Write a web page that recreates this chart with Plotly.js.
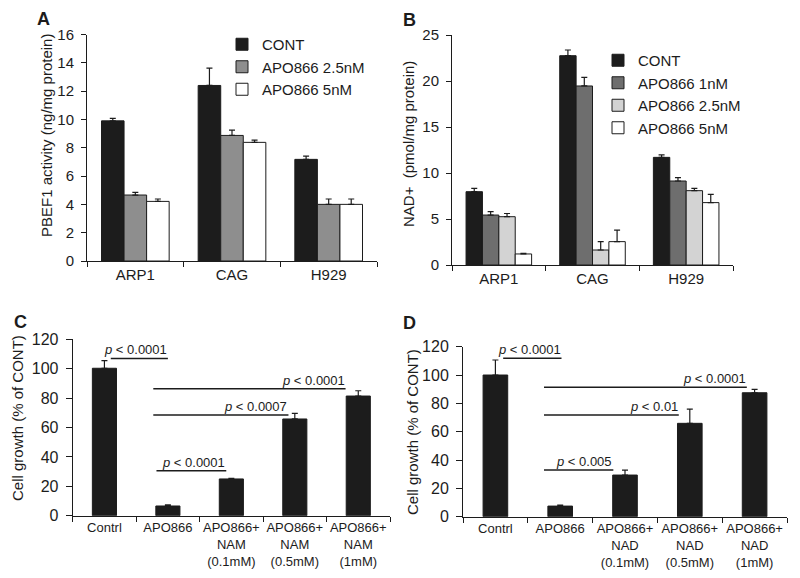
<!DOCTYPE html>
<html>
<head>
<meta charset="utf-8">
<script src="https://cdn.plot.ly/plotly-3.0.1.min.js"></script>
<style>html,body{margin:0;padding:0;background:#fff;}#chart{width:800px;height:578px;}</style>
</head>
<body>
<div id="chart"></div>
<script>
// ---------- DATA ----------
// Panel A: PBEF1 activity (ng/mg protein)
const cellLines = ['ARP1', 'CAG', 'H929'];
const seriesA = ['CONT', 'APO866 2.5nM', 'APO866 5nM'];
const aCont = [9.9, 12.4, 7.18];
const aContSd = [0.17, 1.22, 0.23];
const aApo25 = [4.66, 8.87, 4.0];
const aApo25Sd = [0.19, 0.38, 0.38];
const aApo5 = [4.21, 8.38, 4.0];
const aApo5Sd = [0.17, 0.16, 0.38];

// Panel B: NAD+ (pmol/mg protein)
const seriesB = ['CONT', 'APO866 1nM', 'APO866 2.5nM', 'APO866 5nM'];
const bCont = [7.97, 22.75, 11.7];
const bContSd = [0.36, 0.62, 0.26];
const bApo1 = [5.43, 19.46, 9.13];
const bApo1Sd = [0.37, 0.94, 0.37];
const bApo25 = [5.25, 1.63, 8.08];
const bApo25Sd = [0.35, 0.91, 0.25];
const bApo5 = [1.2, 2.54, 6.78];
const bApo5Sd = [0.07, 1.26, 0.9];

// Panel C: Cell growth with NAM
const catsC = ['Contrl', 'APO866', 'APO866+<br>NAM<br>(0.1mM)', 'APO866+<br>NAM<br>(0.5mM)', 'APO866+<br>NAM<br>(1mM)'];
const cGrowth = [100.3, 6.6, 25.0, 65.8, 81.4];
const cGrowthSd = [5.2, 0.7, 0.4, 3.8, 3.6];
const sigCFrom = [0.1, 0.77, 0.77, 0.82];
const sigCTo = [1.0, 3.8, 2.9, 1.92];
const sigCLevel = [107, 86.4, 68.5, 30.6];
const sigCText = ['p < 0.0001', 'p < 0.0001', 'p < 0.0007', 'p < 0.0001'];

// Panel D: Cell growth with NAD
const catsD = ['Contrl', 'APO866', 'APO866+<br>NAD<br>(0.1mM)', 'APO866+<br>NAD<br>(0.5mM)', 'APO866+<br>NAD<br>(1mM)'];
const dGrowth = [100.0, 7.5, 29.4, 65.9, 87.5];
const dGrowthSd = [10.6, 0.7, 3.5, 10.1, 2.4];
const sigDFrom = [0.12, 0.75, 0.75, 0.75];
const sigDTo = [1.02, 3.88, 2.83, 1.82];
const sigDLevel = [111.8, 91.3, 71.8, 32.9];
const sigDText = ['p < 0.0001', 'p < 0.0001', 'p < 0.01', 'p < 0.005'];

// ---------- STYLE ----------
const INK = '#1c1c1c';
const FONT = 'Liberation Sans, Arial, sans-serif';
const W = 800, H = 578;
const px = v => v / W;
const py = v => 1 - v / H;

function barTrace(name, x, y, sd, color, xa, ya, legend, showlegend, width) {
  const t = {
    type: 'bar', name: name, x: x, y: y,
    xaxis: xa, yaxis: ya,
    marker: {color: color, line: {color: INK, width: 1}},
    error_y: {type: 'data', symmetric: false, array: sd, arrayminus: sd.map(() => 0),
              color: INK, thickness: 1.2, width: 3},
    showlegend: showlegend, hoverinfo: 'skip',
    legendgroup: xa + '_' + name
  };
  if (legend) t.legend = legend;
  if (width) t.width = width;
  return t;
}

const data = [
  barTrace(seriesA[0], cellLines, aCont, aContSd, '#1c1c1c', 'x', 'y', 'legend', true),
  barTrace(seriesA[1], cellLines, aApo25, aApo25Sd, '#8e8e8e', 'x', 'y', 'legend', true),
  barTrace(seriesA[2], cellLines, aApo5, aApo5Sd, '#ffffff', 'x', 'y', 'legend', true),
  barTrace(seriesB[0], cellLines, bCont, bContSd, '#1c1c1c', 'x2', 'y2', 'legend2', true),
  barTrace(seriesB[1], cellLines, bApo1, bApo1Sd, '#6e6e6e', 'x2', 'y2', 'legend2', true),
  barTrace(seriesB[2], cellLines, bApo25, bApo25Sd, '#d3d3d3', 'x2', 'y2', 'legend2', true),
  barTrace(seriesB[3], cellLines, bApo5, bApo5Sd, '#ffffff', 'x2', 'y2', 'legend2', true),
  barTrace('NAM', catsC, cGrowth, cGrowthSd, '#1c1c1c', 'x3', 'y3', null, false, 0.38),
  barTrace('NAD', catsD, dGrowth, dGrowthSd, '#1c1c1c', 'x4', 'y4', null, false, 0.38)
];

function yAxis(domain, anchor, range, dtick, fontSize, ticklen) {
  return {
    domain: domain, anchor: anchor, range: range, dtick: dtick, tick0: 0,
    showline: true, linecolor: INK, linewidth: 1,
    ticks: 'outside', ticklen: ticklen, tickcolor: INK, ticklabelstandoff: 4,
    showgrid: false, zeroline: false,
    tickfont: {size: fontSize, color: INK},
    automargin: false, fixedrange: true
  };
}
function xAxis(domain, anchor, fontSize) {
  return {
    domain: domain, anchor: anchor, type: 'category',
    showline: true, linecolor: INK, linewidth: 1,
    ticks: 'outside', tickson: 'boundaries', ticklen: 5, tickcolor: INK,
    showgrid: false, zeroline: false, tickangle: 0,
    tickfont: {size: fontSize, color: INK},
    automargin: false, fixedrange: true
  };
}

const shapes = [];
function paperText(text, x, y, size, angle) {
  return {text: text, xref: 'paper', yref: 'paper', x: px(x), y: py(y), xanchor: 'center', yanchor: 'middle',
          showarrow: false, textangle: angle || 0, font: {size: size, color: INK}};
}
const annotations = [
  paperText('<b>A</b>', 43.5, 19, 18),
  paperText('<b>B</b>', 410, 20, 18),
  paperText('<b>C</b>', 20, 322, 18),
  paperText('<b>D</b>', 409, 323, 18),
  // axis titles
  paperText('PBEF1 activity (ng/mg protein)', 46, 136, 15, -90),
  paperText('NAD+  (pmol/mg protein)', 408, 144, 15, -90),
  paperText('Cell growth (% of CONT)', 17, 418, 15, -90),
  paperText('Cell growth (% of CONT)', 412, 432, 15, -90)
];
function addSig(from, to, level, labels, xr, yr) {
  for (let i = 0; i < from.length; i++) {
    shapes.push({type: 'line', xref: xr, yref: yr, x0: from[i], x1: to[i], y0: level[i], y1: level[i],
                 line: {color: INK, width: 1.5}});
    annotations.push({xref: xr, yref: yr, x: to[i], y: level[i], xanchor: 'right', yanchor: 'bottom',
                      text: labels[i].replace(/^p/, '<i>p</i>'), showarrow: false,
                      font: {size: 13, color: INK}, borderpad: 0});
  }
}
addSig(sigCFrom, sigCTo, sigCLevel, sigCText, 'x3', 'y3');
addSig(sigDFrom, sigDTo, sigDLevel, sigDText, 'x4', 'y4');

const layout = {
  width: W, height: H,
  margin: {l: 0, r: 0, t: 0, b: 0},
  paper_bgcolor: '#ffffff', plot_bgcolor: '#ffffff',
  font: {family: FONT, color: INK},
  barmode: 'group', bargap: 0.3, bargroupgap: 0,
  xaxis: xAxis([px(87), px(377)], 'y', 15),
  yaxis: yAxis([py(261), py(34.5)], 'x', [0, 16], 2, 15, 5),
  xaxis2: xAxis([px(452), px(733)], 'y2', 15),
  yaxis2: yAxis([py(265), py(35)], 'x2', [0, 25], 5, 15, 5),
  xaxis3: xAxis([px(72.7), px(390)], 'y3', 13),
  yaxis3: yAxis([py(515.7), py(339.3)], 'x3', [0, 120], 20, 16, 6),
  xaxis4: xAxis([px(463), px(787)], 'y4', 13),
  yaxis4: yAxis([py(516.7), py(346.7)], 'x4', [0, 120], 20, 16, 6),
  legend: {x: px(222), y: py(28), xanchor: 'left', yanchor: 'top', bgcolor: 'rgba(0,0,0,0)',
           font: {size: 15, color: INK}, traceorder: 'normal', tracegroupgap: 0, itemclick: false},
  legend2: {x: px(598), y: py(44), xanchor: 'left', yanchor: 'top', bgcolor: 'rgba(0,0,0,0)',
            font: {size: 15, color: INK}, traceorder: 'normal', tracegroupgap: 3, itemclick: false},
  shapes: shapes,
  annotations: annotations
};

Plotly.newPlot('chart', data, layout, {displayModeBar: false, staticPlot: true});
</script>
</body>
</html>
